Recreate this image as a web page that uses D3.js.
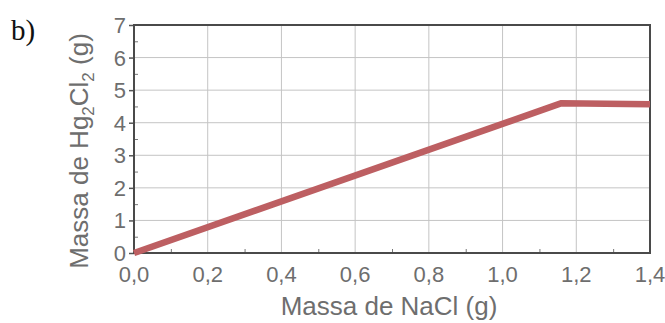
<!DOCTYPE html>
<html>
<head>
<meta charset="utf-8">
<script src="https://cdn.jsdelivr.net/npm/d3@7"></script>
<style>
  body { margin: 0; background: #fff; }
  svg { display: block; }
</style>
</head>
<body>
<div id="chart"></div>
<script>
// mass of NaCl (g) vs mass of Hg2Cl2 formed (g)
const nacl = [0.0, 1.16, 1.4]
const hg2cl2 = [0.0, 4.6, 4.57]
const xTicks = [0, 0.2, 0.4, 0.6, 0.8, 1.0, 1.2, 1.4]
const yTicks = [0, 1, 2, 3, 4, 5, 6, 7]

const width = 665
const height = 323
const margin = { top: 25, right: 15, bottom: 70, left: 134 }

const svg = d3.select("#chart").append("svg")
  .attr("width", width)
  .attr("height", height)

const x = d3.scaleLinear().domain([0, 1.4]).range([margin.left, width - margin.right])
const y = d3.scaleLinear().domain([0, 7]).range([height - margin.bottom, margin.top])

const fmt = d => d.toFixed(1).replace(".", ",")
const gray = "#6e6e6e"
const font = "Liberation Sans, Arial, sans-serif"

// grid
svg.append("g")
  .selectAll("line")
  .data(xTicks.slice(1, -1))
  .join("line")
  .attr("x1", d => x(d)).attr("x2", d => x(d))
  .attr("y1", y(0)).attr("y2", y(7))
  .attr("stroke", "#c4c4c4").attr("stroke-width", 1)

svg.append("g")
  .selectAll("line")
  .data(yTicks.slice(1, -1))
  .join("line")
  .attr("x1", x(0)).attr("x2", x(1.4))
  .attr("y1", d => y(d)).attr("y2", d => y(d))
  .attr("stroke", "#c4c4c4").attr("stroke-width", 1)

// minor ticks pointing inward
const xAxis = svg.append("g")
  .attr("transform", `translate(0,${y(0)})`)
  .call(d3.axisBottom(x).tickValues(d3.range(0.1, 1.4, 0.2)).tickSize(-4).tickFormat(""))
xAxis.select(".domain").remove()
xAxis.selectAll("line").attr("stroke", "#777")

const yAxis = svg.append("g")
  .attr("transform", `translate(${x(0)},0)`)
  .call(d3.axisLeft(y).tickValues(d3.range(0.5, 7, 1)).tickSize(-4).tickFormat(""))
yAxis.select(".domain").remove()
yAxis.selectAll("line").attr("stroke", "#777")

// major ticks outward on y
svg.append("g")
  .attr("transform", `translate(${x(0)},0)`)
  .call(d3.axisLeft(y).tickValues(yTicks).tickSize(5).tickFormat(""))
  .call(g => g.select(".domain").remove())
  .selectAll("line").attr("stroke", "#555").attr("stroke-width", 1.5)

// frame
svg.append("rect")
  .attr("x", x(0)).attr("y", y(7))
  .attr("width", x(1.4) - x(0)).attr("height", y(0) - y(7))
  .attr("fill", "none").attr("stroke", "#4a4a4a").attr("stroke-width", 2)

// tick labels
svg.append("g")
  .selectAll("text")
  .data(xTicks)
  .join("text")
  .attr("x", d => x(d)).attr("y", y(0) + 29)
  .attr("text-anchor", "middle")
  .attr("font-family", font)
  .attr("font-size", 22)
  .attr("fill", gray)
  .text(fmt)

svg.append("g")
  .selectAll("text")
  .data(yTicks)
  .join("text")
  .attr("x", x(0) - 8).attr("y", d => y(d) + 8)
  .attr("text-anchor", "end")
  .attr("font-family", font)
  .attr("font-size", 22)
  .attr("fill", gray)
  .text(d => d)

// axis titles
svg.append("text")
  .attr("x", 389).attr("y", 315)
  .attr("text-anchor", "middle")
  .attr("font-family", font)
  .attr("font-size", 26)
  .attr("fill", gray)
  .text("Massa de NaCl (g)")

const yTitle = svg.append("text")
  .attr("transform", `translate(88,${(y(0) + y(7)) / 2 + 12}) rotate(-90)`)
  .attr("text-anchor", "middle")
  .attr("font-family", font)
  .attr("font-size", 26)
  .attr("fill", gray)
yTitle.append("tspan").text("Massa de Hg")
yTitle.append("tspan").attr("font-size", 17).attr("dy", 6).text("2")
yTitle.append("tspan").attr("dy", -6).text("Cl")
yTitle.append("tspan").attr("font-size", 17).attr("dy", 6).text("2")
yTitle.append("tspan").attr("dy", -6).text(" (g)")

// data line
const line = d3.line().x((d, i) => x(nacl[i])).y(d => y(d))
svg.append("path")
  .datum(hg2cl2)
  .attr("d", line)
  .attr("fill", "none")
  .attr("stroke", "#bd5f62")
  .attr("stroke-width", 6.5)
  .attr("stroke-linejoin", "round")

// panel label
svg.append("text")
  .attr("x", 11).attr("y", 40)
  .attr("font-family", "Liberation Serif, serif")
  .attr("font-size", 29)
  .attr("fill", "#111")
  .text("b)")
</script>
</body>
</html>
